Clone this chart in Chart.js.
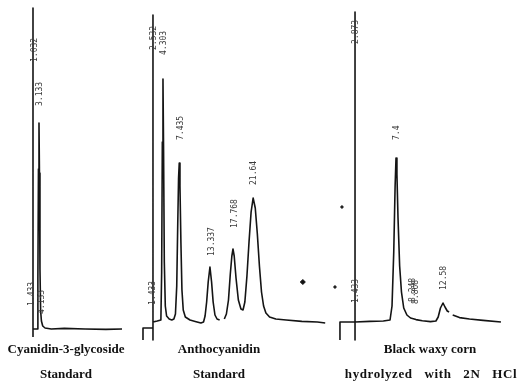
<!DOCTYPE html>
<html><head><meta charset="utf-8">
<script src="https://cdn.jsdelivr.net/npm/chart.js@4.4.1/dist/chart.umd.min.js"></script>
<style>
html,body{margin:0;padding:0;background:#fff;}
#wrap{position:relative;width:519px;height:387px;overflow:hidden;background:#fff;}
#c{position:absolute;left:0;top:0;}
.cap{position:absolute;font-family:"Liberation Serif","Times New Roman",serif;font-weight:bold;font-size:13px;color:#111;white-space:nowrap;transform:translateX(-50%);line-height:15px;}
</style></head><body>
<div id="wrap">
<canvas id="c" width="519" height="387"></canvas>
<div class="cap" style="left:66px;top:341px">Cyanidin-3-glycoside</div>
<div class="cap" style="left:66px;top:366px">Standard</div>
<div class="cap" style="left:219px;top:341px">Anthocyanidin</div>
<div class="cap" style="left:219px;top:366px">Standard</div>
<div class="cap" style="left:430px;top:341px">Black waxy corn</div>
<div class="cap" style="left:431px;top:366px;letter-spacing:0.6px;word-spacing:8px">hydrolyzed with 2N HCl</div>
</div>
<script>
// ---- Data: retention time (min) and detector response (arbitrary units) ----
// Panel 1: Cyanidin-3-glycoside standard
const p1Time   = [1.98, 1.98, 1.98, 2.80, 2.92, 3.03, 3.133, 3.22, 3.32, 3.45, 3.60, 3.85, 4.3, 5.5, 8, 12, 16, 19.1];
const p1Signal = [-4, 160.5, 0, 0, 25, 80, 103, 78, 30, 9, 4, 1.5, 0.5, 0, 0.3, 0, -0.2, 0];
const p1LabelText = ['1.032', '3.133', '1.433', '4.133'];
const p1LabelTime = [2.37, 3.38, 1.79, 3.71];
const p1LabelLevel = [133.5, 111.5, 11.5, 7.5];

// Panel 2: Anthocyanidin standard
const p2Time = [0.46, 0.46, 2.38, 2.38, 2.38, 2.38, 3.2, 3.9, 4.05, 4.18, 4.303, 4.42, 4.56, 4.75, 5.0, 5.5, 6.0, 6.4, 6.7, 6.95, 7.15, 7.3, 7.435, 7.57, 7.75, 7.95, 8.2, 8.6, 9.5, 10.5, 11.6, 12.1, 12.4, 12.7, 13.0, 13.337, 13.65, 13.95, 14.3, 14.7, 15.2, 15.6, 16.1, 16.5, 16.9, 17.25, 17.55, 17.768, 18.0, 18.35, 18.8, 19.3, 19.7, 20.05, 20.45, 20.85, 21.25, 21.64, 22.05, 22.45, 22.85, 23.25, 23.65, 24.1, 24.8, 26, 28, 31, 34, 35.5];
const p2Signal = [-9, -3, -3, -9, 153.5, 0, 0.5, 1, 25, 90, 121.5, 85, 30, 8, 3, 1.5, 1, 1.5, 4, 18, 50, 72, 79.5, 68, 40, 16, 6, 2.5, 1, 0.3, -0.5, 0, 3, 10, 20, 27.5, 20, 10, 3.5, 1.5, 1, null, 1.5, 4, 11, 24, 33, 36.5, 33, 22, 11, 6.5, 6, 10, 23, 40, 55, 62, 57, 44, 28, 15, 8, 4.5, 2.5, 1.5, 1, 0.3, 0, -0.5];
const p2LabelText = ['2.532', '4.303', '7.435', '13.337', '17.768', '21.64', '1.433'];
const p2LabelTime = [2.48, 4.40, 7.77, 13.73, 18.15, 21.71, 2.38];
const p2LabelLevel = [136, 133.5, 91, 33, 47, 68.5, 8.5];
const p2MarkTime = [31.2];
const p2MarkSignal = [20];

// Panel 3: Black waxy corn hydrolyzed with 2N HCl
const p3Time = [1.22, 1.22, 2.88, 2.88, 2.88, 2.88, 4.5, 6.0, 6.74, 6.96, 7.15, 7.3, 7.4, 7.5, 7.62, 7.8, 8.0, 8.25, 8.6, 9.0, 9.6, 10.3, 11.2, 11.8, 12.05, 12.3, 12.58, 12.8, 13.05, 13.25, 13.45, 13.65, 14.4, 15.5, 17, 18.97];
const p3Signal = [-9, 0, 0, -9, 155, 0, 0.3, 0.5, 1, 8, 35, 68, 82, 74, 52, 28, 15, 7, 3.5, 2, 1.2, 0.6, 0.2, 0.5, 2.5, 7, 9.5, 7.5, 5.5, 5, null, 3.5, 2.2, 1.5, 0.8, 0];
const p3LabelText = ['2.873', '7.4', '8.248', '8.868', '12.58', '1.433'];
const p3LabelTime = [2.99, 7.5, 9.27, 9.6, 12.69, 2.99];
const p3LabelLevel = [139, 91, 10, 9, 16, 9.5];
const p3MarkTime = [1.44, 0.67];
const p3MarkSignal = [57.5, 17.5];

// ---- Layout of the three recorder strips on one canvas (pixel geometry, not data) ----
const W = 519, H = 387;
const strips = [
  {x0: 22.7, k: 5.2, base: 329, s: 2},
  {x0: 140.6, k: 5.2, base: 322, s: 2},
  {x0: 328.9, k: 9.07, base: 322, s: 2}
];
const scales = {};
strips.forEach((g, i) => {
  scales['x' + (i + 1)] = {type: 'linear', display: false, bounds: 'data', min: -g.x0 / g.k, max: (W - g.x0) / g.k};
  scales['y' + (i + 1)] = {type: 'linear', display: false, bounds: 'data', min: (g.base - H) / g.s, max: g.base / g.s};
});

const pts = (t, v) => t.map((x, i) => ({x: x, y: v[i]}));
const traceStyle = {showLine: true, borderColor: '#141414', borderWidth: 1.6, borderJoinStyle: 'round', pointRadius: 0, pointHoverRadius: 0, tension: 0, spanGaps: false, fill: false};

const labelSets = [
  {xa: 'x1', ya: 'y1', text: p1LabelText, t: p1LabelTime, v: p1LabelLevel},
  {xa: 'x2', ya: 'y2', text: p2LabelText, t: p2LabelTime, v: p2LabelLevel},
  {xa: 'x3', ya: 'y3', text: p3LabelText, t: p3LabelTime, v: p3LabelLevel}
];

const peakLabels = {
  id: 'peakLabels',
  afterDatasetsDraw(chart) {
    const ctx = chart.ctx;
    ctx.save();
    ctx.fillStyle = '#3a3a3a';
    ctx.font = '8px "DejaVu Sans Mono", monospace';
    ctx.textBaseline = 'middle';
    ctx.textAlign = 'left';
    labelSets.forEach(set => {
      const xs = chart.scales[set.xa], ys = chart.scales[set.ya];
      set.text.forEach((txt, i) => {
        const px = xs.getPixelForValue(set.t[i]);
        const py = ys.getPixelForValue(set.v[i]);
        ctx.save();
        ctx.translate(px, py);
        ctx.rotate(-Math.PI / 2);
        ctx.fillText(txt, 0, 0);
        ctx.restore();
      });
    });
    ctx.restore();
  }
};

new Chart(document.getElementById('c'), {
  type: 'scatter',
  data: {
    datasets: [
      Object.assign({label: 'Cyanidin-3-glycoside Standard', data: pts(p1Time, p1Signal), xAxisID: 'x1', yAxisID: 'y1'}, traceStyle),
      Object.assign({label: 'Anthocyanidin Standard', data: pts(p2Time, p2Signal), xAxisID: 'x2', yAxisID: 'y2'}, traceStyle),
      Object.assign({label: 'Black waxy corn hydrolyzed with 2N HCl', data: pts(p3Time, p3Signal), xAxisID: 'x3', yAxisID: 'y3'}, traceStyle),
      {label: 'marks2', data: pts(p2MarkTime, p2MarkSignal), xAxisID: 'x2', yAxisID: 'y2', pointRadius: 2.5, pointHoverRadius: 2.5, pointStyle: 'rectRot', backgroundColor: '#111', borderColor: '#111', showLine: false},
      {label: 'marks3', data: pts(p3MarkTime, p3MarkSignal), xAxisID: 'x3', yAxisID: 'y3', pointRadius: 1.2, pointHoverRadius: 1.2, backgroundColor: '#222', borderColor: '#222', showLine: false}
    ]
  },
  options: {
    responsive: false,
    animation: false,
    devicePixelRatio: 1,
    events: [],
    layout: {padding: 0, autoPadding: false},
    scales: scales,
    plugins: {legend: {display: false}, tooltip: {enabled: false}, title: {display: false}}
  },
  plugins: [peakLabels]
});
</script>
</body></html>
